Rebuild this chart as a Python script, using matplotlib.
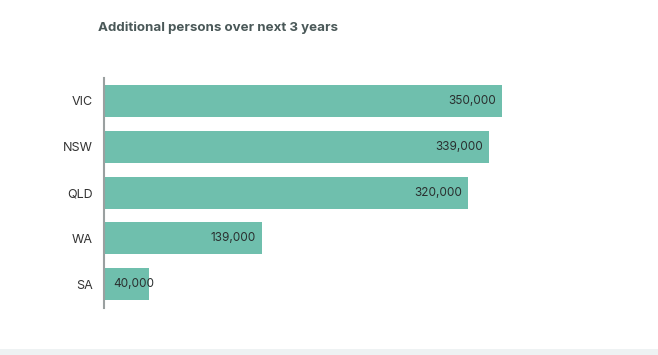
import matplotlib
matplotlib.use("Agg")
import matplotlib.pyplot as plt
from matplotlib.patches import Rectangle

states = ["VIC", "NSW", "QLD", "WA", "SA"]
values = [350000, 339000, 320000, 139000, 40000]
labels = ["350,000", "339,000", "320,000", "139,000", "40,000"]
title = "Additional persons over next 3 years"

W, H = 658, 355
fig = plt.figure(figsize=(W / 100, H / 100), dpi=100)
plt.rcParams['font.family'] = ['Inter', 'DejaVu Sans']

px = 398 / 350000
xmax = 400000
ax = fig.add_axes([104 / W, (H - 308) / H, xmax * px / W, 230 / H])
ypos = list(range(len(states)))
ax.barh(ypos, values, height=0.70, color="#6fbfad", edgecolor="none")
ax.set_xlim(0, xmax)
ax.set_ylim(4.52, -0.5)
ax.set_yticks(ypos)
ax.set_yticklabels(states, fontsize=9, color="#333333")
ax.tick_params(axis="y", length=0, pad=8)
ax.set_xticks([])
for s in ["top", "right", "bottom"]:
    ax.spines[s].set_visible(False)
ax.spines["left"].set_color("#9aa0a0")
ax.spines["left"].set_linewidth(1.5)

for y, v, lab in zip(ypos, values, labels):
    if v > 80000:
        ax.text(v - 6 / px, y, lab, ha="right", va="center", fontsize=8.5, color="#2a2f2f")
    else:
        ax.text(9 / px, y, lab, ha="left", va="center", fontsize=8.5, color="#2a2f2f")

fig.text(98 / W, 1 - 28 / H, title, ha="left", va="center", fontsize=9.6,
         fontweight="bold", color="#4a5858")

fig.patches.append(Rectangle((0, 0), 1, 6 / H, transform=fig.transFigure,
                             facecolor="#eef2f3", edgecolor="none"))

fig.savefig("out.png", dpi=100)
